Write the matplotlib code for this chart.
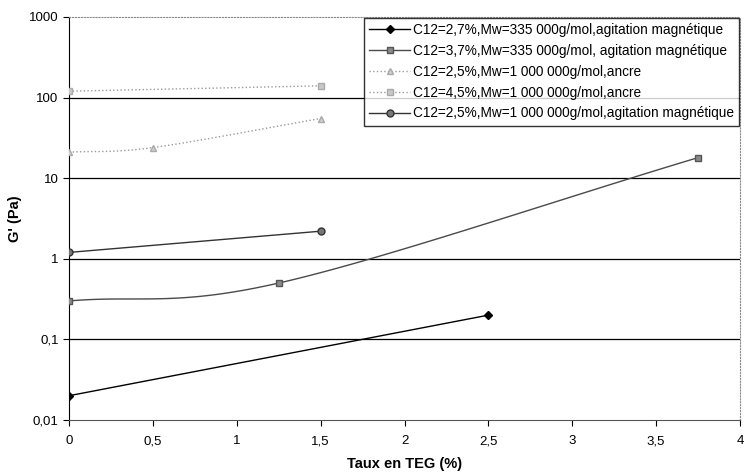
import numpy as np
import matplotlib.pyplot as plt
from matplotlib.ticker import FixedLocator, FixedFormatter

# données
x1 = [0, 2.5]
y1 = [0.02, 0.2]
x2 = [0, 1.25, 3.75]
y2 = [0.3, 0.5, 18]
x3 = [0, 0.5, 1.5]
y3 = [21, 24, 55]
x4 = [0, 1.5]
y4 = [120, 140]
x5 = [0, 1.5]
y5 = [1.2, 2.2]

labels = ["C12=2,7%,Mw=335 000g/mol,agitation magnétique",
          "C12=3,7%,Mw=335 000g/mol, agitation magnétique",
          "C12=2,5%,Mw=1 000 000g/mol,ancre",
          "C12=4,5%,Mw=1 000 000g/mol,ancre",
          "C12=2,5%,Mw=1 000 000g/mol,agitation magnétique"]

xticks = [0, 0.5, 1, 1.5, 2, 2.5, 3, 3.5, 4]
xtick_labels = ["0", "0,5", "1", "1,5", "2", "2,5", "3", "3,5", "4"]
yticks = [0.01, 0.1, 1, 10, 100, 1000]
ytick_labels = ["0,01", "0,1", "1", "10", "100", "1000"]


# courbe lissée (type Excel) en espace (x, log y)
def smooth(x, y, n=40):
    x = np.asarray(x, float)
    ly = np.log10(np.asarray(y, float))
    if len(x) < 3:
        return x, 10 ** ly
    px = np.concatenate([[2 * x[0] - x[1]], x, [2 * x[-1] - x[-2]]])
    py = np.concatenate([[2 * ly[0] - ly[1]], ly, [2 * ly[-1] - ly[-2]]])
    xs, ys = [], []
    for i in range(1, len(px) - 2):
        t = np.linspace(0, 1, n)
        c1x = px[i] + (px[i + 1] - px[i - 1]) / 6
        c1y = py[i] + (py[i + 1] - py[i - 1]) / 6
        c2x = px[i + 1] - (px[i + 2] - px[i]) / 6
        c2y = py[i + 1] - (py[i + 2] - py[i]) / 6
        bx = (1 - t) ** 3 * px[i] + 3 * (1 - t) ** 2 * t * c1x + 3 * (1 - t) * t ** 2 * c2x + t ** 3 * px[i + 1]
        by = (1 - t) ** 3 * py[i] + 3 * (1 - t) ** 2 * t * c1y + 3 * (1 - t) * t ** 2 * c2y + t ** 3 * py[i + 1]
        xs.append(bx)
        ys.append(by)
    return np.concatenate(xs), 10 ** np.concatenate(ys)


plt.rcParams['font.family'] = ['Liberation Sans', 'DejaVu Sans']

fig = plt.figure(figsize=(7.46, 4.72), dpi=100)
ax = fig.add_axes([69 / 746, 1 - 420 / 472, 671 / 746, 403 / 472])
ax.set_yscale('log')

# lignes de grille horizontales
for v in yticks[1:-1]:
    ax.axhline(v, color='black', lw=0.9, zorder=1)

series = [
    (x1, y1, dict(color='black', lw=1.0, ls='-', marker='D', ms=4, mfc='black', mec='black')),
    (x2, y2, dict(color='#4a4a4a', lw=1.0, ls='-', marker='s', ms=5, mfc='#8a8a8a', mec='#555555')),
    (x3, y3, dict(color='#9a9a9a', lw=1.0, ls=':', marker='^', ms=5, mfc='#d0d0d0', mec='#aaaaaa')),
    (x4, y4, dict(color='#9a9a9a', lw=1.0, ls=':', marker='s', ms=5, mfc='#c8c8c8', mec='#aaaaaa')),
    (x5, y5, dict(color='#333333', lw=1.0, ls='-', marker='o', ms=5, mfc='#777777', mec='#333333')),
]

for (xs, ys, st), lab in zip(series, labels):
    sx, sy = smooth(xs, ys)
    ax.plot(sx, sy, color=st['color'], lw=st['lw'], ls=st['ls'], zorder=3)
    ax.plot(xs, ys, ls='none', marker=st['marker'], ms=st['ms'],
            mfc=st['mfc'], mec=st['mec'], zorder=4)
    ax.plot([], [], color=st['color'], lw=st['lw'], ls=st['ls'],
            marker=st['marker'], ms=st['ms'], mfc=st['mfc'], mec=st['mec'], label=lab)

ax.set_xlim(0, 4)
ax.set_ylim(0.01, 1000)
ax.xaxis.set_major_locator(FixedLocator(xticks))
ax.xaxis.set_major_formatter(FixedFormatter(xtick_labels))
ax.yaxis.set_major_locator(FixedLocator(yticks))
ax.yaxis.set_major_formatter(FixedFormatter(ytick_labels))
ax.yaxis.set_minor_locator(FixedLocator([]))
ax.tick_params(axis='both', labelsize=9.5, length=4, direction='out', width=0.8)
ax.tick_params(axis='x', pad=7)

ax.spines['left'].set_color('black')
ax.spines['bottom'].set_color('#555555')
ax.spines['top'].set_linestyle(':')
ax.spines['top'].set_color('#888888')
ax.spines['right'].set_linestyle(':')
ax.spines['right'].set_color('#888888')

ax.set_xlabel('Taux en TEG (%)', fontsize=10.5, fontweight='bold', labelpad=7)
ax.set_ylabel("G' (Pa)", fontsize=10.5, fontweight='bold')
ax.yaxis.set_label_coords(-0.07, 0.5)

leg = ax.legend(loc='upper right', fontsize=9.8, frameon=True, fancybox=False,
                edgecolor='black', handlelength=3.0, borderaxespad=0.05,
                labelspacing=0.5, handletextpad=0.2, borderpad=0.4)
leg.get_frame().set_linewidth(1.0)

fig.savefig('out.png', dpi=100)
